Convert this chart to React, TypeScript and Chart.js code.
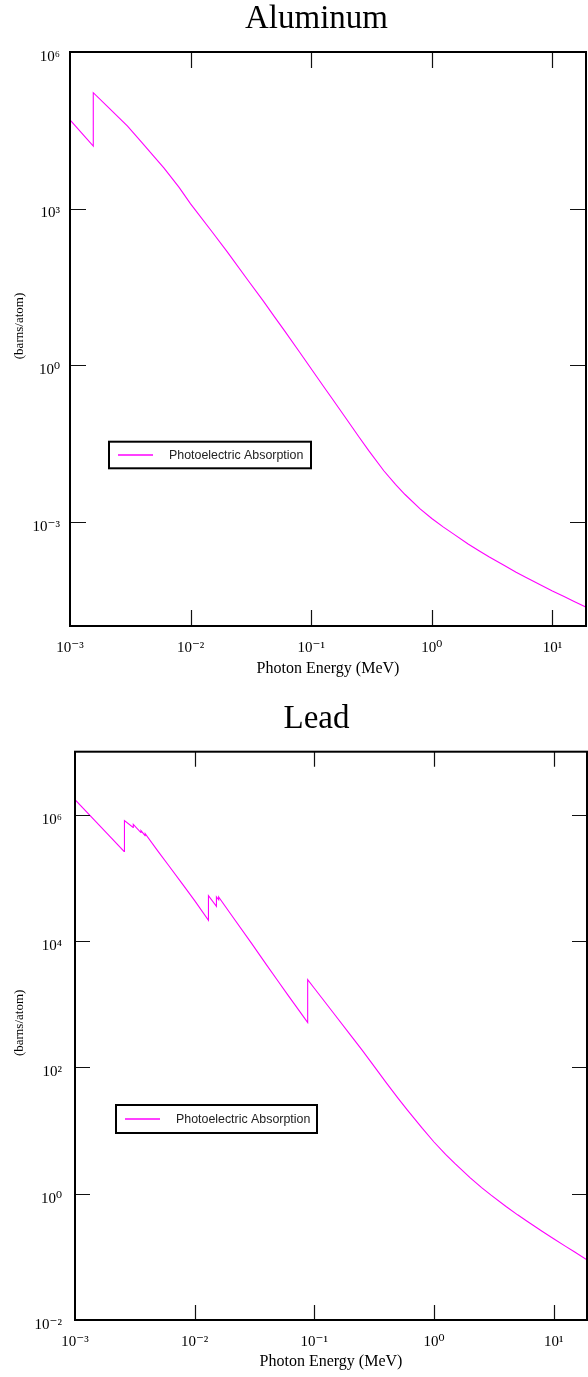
import React, { useEffect, useRef } from 'react';
import { Chart, registerables } from 'chart.js';

Chart.register(...registerables);

// ---------- data ----------
const X_TICKS = [1e-3, 1e-2, 1e-1, 1, 10];
const AL_Y_TICKS = [1e-3, 1, 1e3, 1e6];
const PB_Y_TICKS = [1e-2, 1, 1e2, 1e4, 1e6];

const SERIES_LABEL = 'Photoelectric Absorption';
const X_TITLE = 'Photon Energy (MeV)';
const Y_TITLE = '(barns/atom)';
const LINE_COLOR = '#ff00ff';

// Aluminum: photon energy (MeV) and cross-section (barns/atom)
const AL_ENERGY = [
  1e-3, 1.5596e-3, 1.5596e-3, 2e-3, 3e-3, 4e-3, 5e-3, 6e-3, 8e-3, 1e-2,
  1.5e-2, 2e-2, 3e-2, 4e-2, 5e-2, 6e-2, 8e-2, 0.1, 0.125, 0.15,
  0.2, 0.25, 0.3, 0.4, 0.5, 0.6, 0.8, 1, 1.25, 1.5,
  2, 2.5, 3, 4, 5, 6, 8, 10, 12.5, 15,
  20,
];
const AL_SIGMA = [
  5.0e4, 1.58e4, 1.66e5, 9.46e4, 3.78e4, 1.78e4, 9.77e3, 6.03e3, 2.57e3, 1.23e3,
  363, 151, 41.7, 17.0, 8.22, 4.57, 1.78, 0.851, 0.407, 0.224,
  0.0865, 0.0414, 0.0229, 9.44e-3, 5.16e-3, 3.31e-3, 1.75e-3, 1.15e-3, 7.85e-4, 5.89e-4,
  3.72e-4, 2.71e-4, 2.1e-4, 1.44e-4, 1.07e-4, 8.63e-5, 6.11e-5, 4.68e-5, 3.66e-5, 2.99e-5,
  2.18e-5,
];

// Lead: photon energy (MeV) and cross-section (barns/atom)
const PB_ENERGY = [
  1e-3, 1.5e-3, 2e-3, 2.57e-3, 2.59e-3, 3.06e-3, 3.07e-3, 3.55e-3, 3.56e-3, 3.85e-3,
  3.86e-3, 5e-3, 6e-3, 8e-3, 1e-2, 1.304e-2, 1.304e-2, 1.52e-2, 1.52e-2, 1.586e-2,
  1.586e-2, 2e-2, 3e-2, 4e-2, 5e-2, 6e-2, 8e-2, 8.8e-2, 8.8e-2, 0.1,
  0.125, 0.15, 0.2, 0.25, 0.3, 0.4, 0.5, 0.6, 0.8, 1,
  1.25, 1.5, 2, 2.5, 3, 4, 5, 6, 8, 10,
  12.5, 15, 20,
];
const PB_SIGMA = [
  1.74e6, 7.76e5, 4.37e5, 2.63e5, 8.13e5, 6.31e5, 7.08e5, 5.25e5, 5.62e5, 4.68e5,
  5.01e5, 2.57e5, 1.62e5, 7.76e4, 4.37e4, 2.14e4, 5.25e4, 3.55e4, 5.01e4, 4.52e4,
  5.01e4, 2.69e4, 9.12e3, 4.17e3, 2.29e3, 1.41e3, 661, 513, 2455, 1795,
  1038, 664, 328, 190, 119, 56.8, 32.7, 21.1, 10.8, 6.59,
  4.19, 2.99, 1.8, 1.25, 0.948, 0.628, 0.463, 0.366, 0.255, 0.194,
  0.148, 0.119, 0.0839,
];

// ---------- helpers ----------
const SUP: Record<string, string> = {
  '-': '\u207B', '0': '\u2070', '1': '\u00B9', '2': '\u00B2', '3': '\u00B3',
  '4': '\u2074', '5': '\u2075', '6': '\u2076', '7': '\u2077', '8': '\u2078', '9': '\u2079',
};
const powLabel = (v: number) => {
  const e = String(Math.round(Math.log10(v)));
  return '10' + e.split('').map((c) => SUP[c] || c).join('');
};

const SERIF = '"Liberation Serif", "Times New Roman", "DejaVu Serif", serif';
const SANS = '"Liberation Sans", Arial, "DejaVu Sans", sans-serif';

const frameTicksPlugin = {
  id: 'frameTicks',
  afterDraw(chart: any, _args: any, opts: any) {
    const { ctx, chartArea: a, scales } = chart;
    const xs = scales.x;
    const ys = scales.y;
    const L = opts.tickLen || 15;
    ctx.save();
    ctx.strokeStyle = '#111';
    ctx.lineWidth = 1.2;
    ctx.beginPath();
    for (const t of xs.ticks) {
      const px = Math.round(xs.getPixelForValue(t.value)) + 0.5;
      if (px > a.left + 2 && px < a.right - 2) {
        ctx.moveTo(px, a.bottom);
        ctx.lineTo(px, a.bottom - L);
        ctx.moveTo(px, a.top);
        ctx.lineTo(px, a.top + L);
      }
    }
    for (const t of ys.ticks) {
      const py = Math.round(ys.getPixelForValue(t.value)) + 0.5;
      if (py > a.top + 2 && py < a.bottom - 2) {
        ctx.moveTo(a.left, py);
        ctx.lineTo(a.left + L, py);
        ctx.moveTo(a.right, py);
        ctx.lineTo(a.right - L, py);
      }
    }
    ctx.stroke();
    ctx.strokeStyle = '#000';
    ctx.lineWidth = 2;
    ctx.strokeRect(a.left, a.top, a.right - a.left, a.bottom - a.top);
    ctx.restore();
  },
};

const boxLegendPlugin = {
  id: 'boxLegend',
  afterDraw(chart: any, _args: any, opts: any) {
    const { ctx, chartArea: a } = chart;
    const ds = chart.data.datasets[0];
    const x = a.left + opts.dx;
    const y = a.top + opts.dy;
    const w = opts.w;
    const h = opts.h;
    ctx.save();
    ctx.fillStyle = '#fff';
    ctx.fillRect(x, y, w, h);
    ctx.strokeStyle = '#000';
    ctx.lineWidth = 2;
    ctx.strokeRect(x, y, w, h);
    const my = y + h / 2;
    ctx.strokeStyle = LINE_COLOR;
    ctx.lineWidth = 1.5;
    ctx.beginPath();
    ctx.moveTo(x + 9, my);
    ctx.lineTo(x + 44, my);
    ctx.stroke();
    ctx.fillStyle = '#222';
    ctx.font = `12.4px ${SANS}`;
    ctx.textBaseline = 'middle';
    ctx.textAlign = 'left';
    ctx.fillText(ds.label, x + 60, y + h / 2 + 0.5);
    ctx.restore();
  },
};

type Spec = {
  title: string;
  energy: number[];
  sigma: number[];
  yTicks: number[];
  yMin: number;
  yMax: number;
  top: number;
  height: number;
  leftAxis: number;
  rightPad: number;
  titleTopPad: number;
  xAxisHeight: number;
  xTitlePad: number;
  yLabelPad: number;
  tickLen: number;
  legend: { dx: number; dy: number; w: number; h: number };
};

const CANVAS_W = 633;
// leading spaces nudge the rotated y-axis title slightly upward, as in the reference
const Y_TITLE_SHIFT = '        ';

function PhotoChart({ spec }: { spec: Spec }) {
  const ref = useRef<HTMLCanvasElement | null>(null);
  useEffect(() => {
    if (!ref.current) return;
    const points = spec.energy.map((e, i) => ({ x: e, y: spec.sigma[i] }));
    const chart = new Chart(ref.current, {
      type: 'line',
      data: {
        datasets: [
          {
            label: SERIES_LABEL,
            data: points,
            borderColor: LINE_COLOR,
            borderWidth: 1.1,
            pointRadius: 0,
            fill: false,
            tension: 0,
          },
        ],
      },
      options: {
        animation: false,
        responsive: false,
        devicePixelRatio: 1,
        layout: { padding: { left: 0, right: 0, top: 0, bottom: 0 } },
        plugins: {
          legend: { display: false },
          tooltip: { enabled: false },
          title: {
            display: true,
            text: spec.title,
            color: '#000',
            font: { family: SERIF, size: 33, weight: 'normal' },
            padding: { top: spec.titleTopPad, bottom: 12.4 },
          },
          frameTicks: { tickLen: spec.tickLen },
          boxLegend: spec.legend,
        } as any,
        scales: {
          x: {
            type: 'logarithmic',
            position: 'bottom',
            min: 1e-3,
            max: 19,
            grid: { display: false, drawTicks: false },
            border: { display: false },
            afterBuildTicks: (s: any) => {
              s.ticks = X_TICKS.map((v) => ({ value: v }));
            },
            afterFit: (s: any) => {
              s.height = spec.xAxisHeight;
            },
            ticks: {
              autoSkip: false,
              maxRotation: 0,
              minRotation: 0,
              padding: 13,
              color: '#000',
              font: { family: SERIF, size: 15 },
              callback: (v: any) => powLabel(Number(v)),
            },
            title: {
              display: true,
              text: X_TITLE,
              color: '#000',
              font: { family: SERIF, size: 16 },
              padding: { top: 0, bottom: spec.xTitlePad },
            },
          },
          y: {
            type: 'logarithmic',
            position: 'left',
            min: spec.yMin,
            max: spec.yMax,
            grid: { display: false, drawTicks: false },
            border: { display: false },
            afterBuildTicks: (s: any) => {
              s.ticks = spec.yTicks.map((v) => ({ value: v }));
            },
            afterFit: (s: any) => {
              s.width = spec.leftAxis;
            },
            ticks: {
              autoSkip: false,
              padding: spec.yLabelPad,
              labelOffset: 5,
              color: '#000',
              font: { family: SERIF, size: 15 },
              callback: (v: any) => powLabel(Number(v)),
            },
            title: {
              display: true,
              text: Y_TITLE_SHIFT + Y_TITLE,
              color: '#000',
              font: { family: SERIF, size: 13 },
              padding: { top: 12.2, bottom: 0 },
            },
          },
          yRight: {
            type: 'linear',
            position: 'right',
            display: true,
            grid: { display: false, drawTicks: false },
            border: { display: false },
            ticks: { display: false },
            afterFit: (s: any) => {
              s.width = spec.rightPad;
            },
          },
        } as any,
      },
      plugins: [frameTicksPlugin, boxLegendPlugin],
    } as any);
    return () => chart.destroy();
  }, [spec]);
  return (
    <canvas
      ref={ref}
      width={CANVAS_W}
      height={spec.height}
      style={{ position: 'absolute', left: 0, top: spec.top, width: CANVAS_W, height: spec.height }}
    />
  );
}

const AL_SPEC: Spec = {
  title: 'Aluminum',
  energy: AL_ENERGY,
  sigma: AL_SIGMA,
  yTicks: AL_Y_TICKS,
  yMin: 1e-5,
  yMax: 1e6,
  top: 0,
  height: 690,
  leftAxis: 70,
  rightPad: CANVAS_W - 586,
  titleTopPad: 0,
  xAxisHeight: 64,
  xTitlePad: 11.4,
  yLabelPad: 10,
  tickLen: 16,
  legend: { dx: 39, dy: 389.7, w: 202, h: 26.6 },
};

const PB_SPEC: Spec = {
  title: 'Lead',
  energy: PB_ENERGY,
  sigma: PB_SIGMA,
  yTicks: PB_Y_TICKS,
  yMin: 1e-2,
  yMax: 1e7,
  top: 690,
  height: 687,
  leftAxis: 75,
  rightPad: CANVAS_W - 587,
  titleTopPad: 9.7,
  xAxisHeight: 57,
  xTitlePad: 5.9,
  yLabelPad: 13,
  tickLen: 15,
  legend: { dx: 41, dy: 353.3, w: 201, h: 28 },
};

export default function App() {
  return (
    <div
      style={{
        position: 'absolute',
        left: 0,
        top: 0,
        width: 588,
        height: 1377,
        overflow: 'hidden',
        background: '#fff',
      }}
    >
      <PhotoChart spec={AL_SPEC} />
      <PhotoChart spec={PB_SPEC} />
    </div>
  );
}
